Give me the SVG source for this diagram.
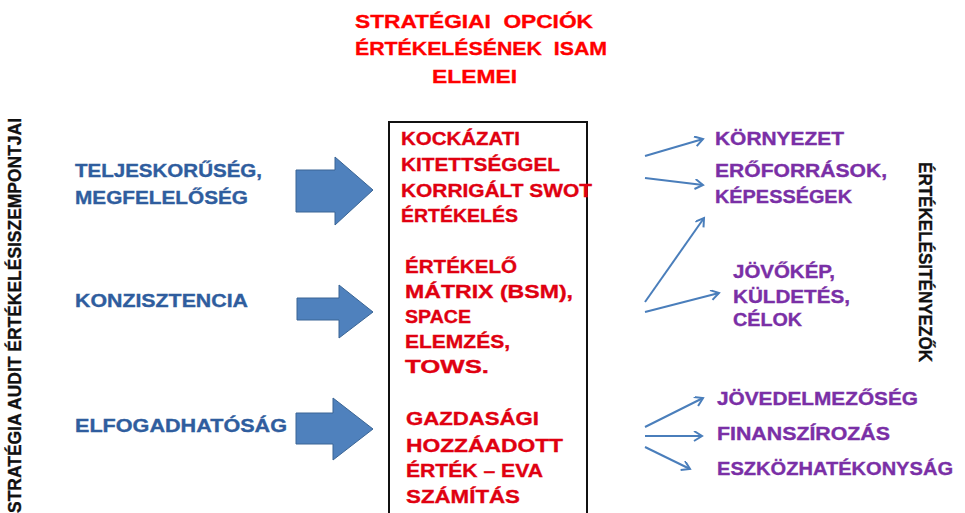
<svg xmlns="http://www.w3.org/2000/svg" width="965" height="513" viewBox="0 0 965 513">
<style>
text{font-family:"Liberation Sans",Arial,sans-serif;font-weight:bold;font-size:18.5px;stroke-width:0.35px}
.t{fill:#ff0000;stroke:#ff0000;font-size:19px;white-space:pre}
.b{fill:#2f5d9e;stroke:#2f5d9e}
.r{fill:#e00010;stroke:#e00010}
.p{fill:#7a2fa6;stroke:#7a2fa6}
.v{fill:#111;stroke:#111;font-size:18px}
.blk{fill:#4f81bd;stroke:#3a6595;stroke-width:1}
.ln{stroke:#4a7ebb;stroke-width:2;fill:none;marker-end:url(#ah)}
</style>
<defs>
<marker id="ah" markerWidth="12" markerHeight="12" refX="9" refY="5" orient="auto" markerUnits="userSpaceOnUse">
<path d="M1,0 L9,5 L1,10" fill="none" stroke="#4a7ebb" stroke-width="2"/>
</marker>
</defs>
<rect width="965" height="513" fill="#fff"/>

<g id="title">
<text class="t" x="355" y="28" textLength="238" lengthAdjust="spacingAndGlyphs" xml:space="preserve">STRATÉGIAI  OPCIÓK</text>
<text class="t" x="355" y="55" textLength="252" lengthAdjust="spacingAndGlyphs" xml:space="preserve">ÉRTÉKELÉSÉNEK  ISAM</text>
<text class="t" x="432" y="83" textLength="85" lengthAdjust="spacingAndGlyphs">ELEMEI</text>
</g>

<g id="left-axis">
<text class="v" transform="translate(21,513) rotate(-90)" textLength="395" lengthAdjust="spacingAndGlyphs">STRATÉGIA AUDIT ÉRTÉKELÉSISZEMPONTJAI</text>
</g>
<g id="right-axis">
<text class="v" transform="translate(919,162) rotate(90)" textLength="200" lengthAdjust="spacingAndGlyphs">ÉRTÉKELÉSITÉNYEZŐK</text>
</g>

<g id="crit1">
<text class="b" x="75" y="177" textLength="187" lengthAdjust="spacingAndGlyphs">TELJESKORŰSÉG,</text>
<text class="b" x="75" y="204" textLength="173" lengthAdjust="spacingAndGlyphs">MEGFELELŐSÉG</text>
</g>
<g id="crit2">
<text class="b" x="75" y="307" textLength="173" lengthAdjust="spacingAndGlyphs">KONZISZTENCIA</text>
</g>
<g id="crit3">
<text class="b" x="75" y="432" textLength="212" lengthAdjust="spacingAndGlyphs">ELFOGADHATÓSÁG</text>
</g>

<g id="arrow1"><polygon class="blk" points="296,170 335,170 335,157 373,190 335,225 335,212 296,212"/></g>
<g id="arrow2"><polygon class="blk" points="297,298 339,298 339,285 373,312 339,338 339,320 297,320"/></g>
<g id="arrow3"><polygon class="blk" points="296,413 333,413 333,398 373,429 333,460 333,444 296,444"/></g>

<g id="box">
<rect x="389" y="122" width="198" height="400" fill="#fff" stroke="#111" stroke-width="2"/>
<text class="r" x="401" y="145" textLength="119" lengthAdjust="spacingAndGlyphs">KOCKÁZATI</text>
<text class="r" x="401" y="171" textLength="159" lengthAdjust="spacingAndGlyphs">KITETTSÉGGEL</text>
<text class="r" x="401" y="197" textLength="191" lengthAdjust="spacingAndGlyphs">KORRIGÁLT SWOT</text>
<text class="r" x="401" y="222" textLength="117" lengthAdjust="spacingAndGlyphs">ÉRTÉKELÉS</text>
<text class="r" x="405" y="273" textLength="112" lengthAdjust="spacingAndGlyphs">ÉRTÉKELŐ</text>
<text class="r" x="405" y="298" textLength="168" lengthAdjust="spacingAndGlyphs">MÁTRIX (BSM),</text>
<text class="r" x="405" y="323" textLength="66" lengthAdjust="spacingAndGlyphs">SPACE</text>
<text class="r" x="405" y="348" textLength="105" lengthAdjust="spacingAndGlyphs">ELEMZÉS,</text>
<text class="r" x="405" y="373" textLength="84" lengthAdjust="spacingAndGlyphs">TOWS.</text>
<text class="r" x="406" y="425" textLength="133" lengthAdjust="spacingAndGlyphs">GAZDASÁGI</text>
<text class="r" x="406" y="452" textLength="157" lengthAdjust="spacingAndGlyphs">HOZZÁADOTT</text>
<text class="r" x="406" y="477" textLength="137" lengthAdjust="spacingAndGlyphs">ÉRTÉK – EVA</text>
<text class="r" x="406" y="503" textLength="114" lengthAdjust="spacingAndGlyphs">SZÁMÍTÁS</text>
</g>

<g id="connectors">
<line class="ln" x1="645" y1="156" x2="703" y2="139"/>
<line class="ln" x1="645" y1="178" x2="703" y2="185"/>
<line class="ln" x1="645" y1="302" x2="704" y2="218"/>
<line class="ln" x1="645" y1="312" x2="719" y2="293"/>
<line class="ln" x1="645" y1="427" x2="703" y2="398"/>
<line class="ln" x1="645" y1="436" x2="702" y2="436"/>
<line class="ln" x1="645" y1="447" x2="690" y2="469"/>
</g>

<g id="env"><text class="p" x="715" y="145" textLength="129" lengthAdjust="spacingAndGlyphs">KÖRNYEZET</text></g>
<g id="res">
<text class="p" x="715" y="177" textLength="172" lengthAdjust="spacingAndGlyphs">ERŐFORRÁSOK,</text>
<text class="p" x="715" y="203" textLength="137" lengthAdjust="spacingAndGlyphs">KÉPESSÉGEK</text>
</g>
<g id="vision">
<text class="p" x="733" y="278" textLength="102" lengthAdjust="spacingAndGlyphs">JÖVŐKÉP,</text>
<text class="p" x="733" y="303" textLength="117" lengthAdjust="spacingAndGlyphs">KÜLDETÉS,</text>
<text class="p" x="733" y="326" textLength="69" lengthAdjust="spacingAndGlyphs">CÉLOK</text>
</g>
<g id="profit"><text class="p" x="717" y="405" textLength="201" lengthAdjust="spacingAndGlyphs">JÖVEDELMEZŐSÉG</text></g>
<g id="finance"><text class="p" x="717" y="440" textLength="173" lengthAdjust="spacingAndGlyphs">FINANSZÍROZÁS</text></g>
<g id="asset"><text class="p" x="717" y="475" textLength="236" lengthAdjust="spacingAndGlyphs">ESZKÖZHATÉKONYSÁG</text></g>
</svg>
